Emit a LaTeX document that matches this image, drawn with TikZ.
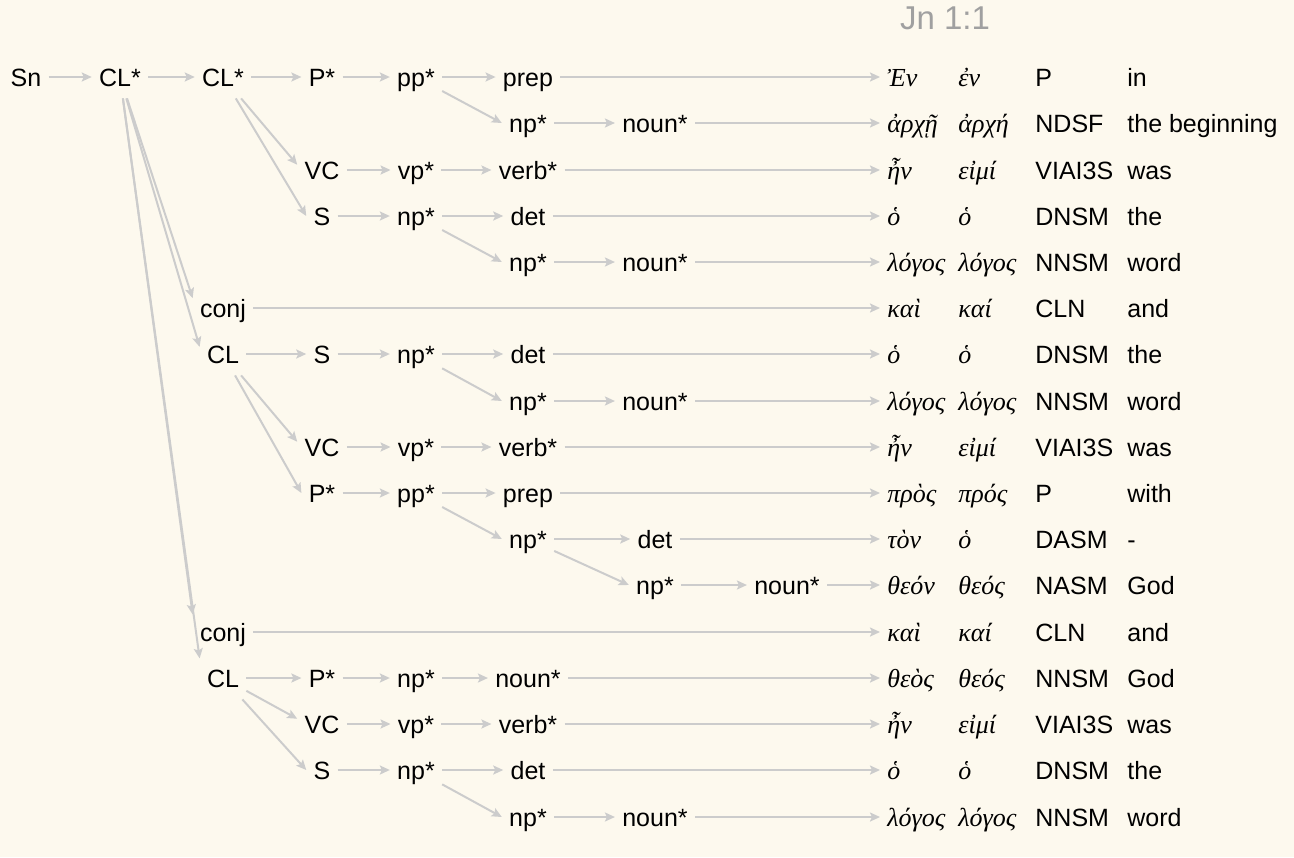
\documentclass[tikz,border=0pt]{standalone}
\usepackage{fontspec}
\setmainfont{Liberation Sans}
\newfontfamily\greekfont{Liberation Serif}
\usetikzlibrary{arrows.meta, positioning, calc}

\definecolor{paper}{HTML}{FDF9EE}
\definecolor{edgegray}{HTML}{CCCCCC}
\definecolor{titlegray}{HTML}{A0A0A0}

\begin{document}
\begin{tikzpicture}[x=0.5pt,y=-0.5pt,
  lbl/.style={font=\fontsize{12.5pt}{15pt}\selectfont,inner xsep=3.5pt,inner ysep=6pt,text height=9pt,text depth=0pt},
  grk/.style={lbl,font=\greekfont\itshape\fontsize{13pt}{15pt}\selectfont,anchor=west},
  cell/.style={lbl,anchor=west},
  link/.style={draw=edgegray,line width=1pt,-{Stealth[length=5pt,width=4.5pt,inset=1pt]}}]
  \path[use as bounding box,fill=paper] (0,0) rectangle (1294,857);
  \node(title)[font=\fontsize{16.5pt}{20pt}\selectfont,text=titlegray] at (945,18) {Jn 1:1};
%
  \foreach \y/\w/\l/\t/\g [count=\i] in {77/Ἐν/ἐν/P/in, 123/ἀρχῇ/ἀρχή/NDSF/the beginning,
      170/ἦν/εἰμί/VIAI3S/was, 216/ὁ/ὁ/DNSM/the, 262/λόγος/λόγος/NNSM/word,
      308/καὶ/καί/CLN/and, 354/ὁ/ὁ/DNSM/the, 401/λόγος/λόγος/NNSM/word,
      447/ἦν/εἰμί/VIAI3S/was, 493/πρὸς/πρός/P/with, 539/τὸν/ὁ/DASM/-,
      585/θεόν/θεός/NASM/God, 632/καὶ/καί/CLN/and, 678/θεὸς/θεός/NNSM/God,
      724/ἦν/εἰμί/VIAI3S/was, 770/ὁ/ὁ/DNSM/the, 817/λόγος/λόγος/NNSM/word}{
    \node(w\i)[grk] at (880,\y) {\w};
    \node(l\i)[grk] at (951,\y) {\l};
    \node(t\i)[cell] at (1028,\y) {\t};
    \node(g\i)[cell] at (1120,\y) {\g};
  }
%
  \node(sn)[lbl] at (26,77) {Sn};
  \node(cla)[lbl] at (120,77) {CL*};
  \node(clb)[lbl] at (223,77) {CL*};
  \node(pa)[lbl] at (322,77) {P*};
  \node(ppa)[lbl] at (416,77) {pp*};
  \node(prepa)[lbl] at (528,77) {prep};
  \node(npa)[lbl] at (528,123) {np*};
  \node(nouna)[lbl] at (655,123) {noun*};
%
  \node(vca)[lbl] at (322,170) {VC};
  \node(vpa)[lbl] at (416,170) {vp*};
  \node(verba)[lbl] at (528,170) {verb*};
  \node(sa)[lbl] at (322,216) {S};
  \node(npb)[lbl] at (416,216) {np*};
  \node(deta)[lbl] at (528,216) {det};
  \node(npc)[lbl] at (528,262) {np*};
  \node(nounb)[lbl] at (655,262) {noun*};
%
  \node(conja)[lbl] at (223,308) {conj};
  \node(clc)[lbl] at (223,354) {CL};
  \node(sb)[lbl] at (322,354) {S};
  \node(npd)[lbl] at (416,354) {np*};
  \node(detb)[lbl] at (528,354) {det};
  \node(npe)[lbl] at (528,401) {np*};
  \node(nounc)[lbl] at (655,401) {noun*};
  \node(vcb)[lbl] at (322,447) {VC};
  \node(vpb)[lbl] at (416,447) {vp*};
  \node(verbb)[lbl] at (528,447) {verb*};
  \node(pb)[lbl] at (322,493) {P*};
  \node(ppb)[lbl] at (416,493) {pp*};
  \node(prepb)[lbl] at (528,493) {prep};
  \node(npf)[lbl] at (528,539) {np*};
  \node(detc)[lbl] at (655,539) {det};
  \node(npg)[lbl] at (655,585) {np*};
  \node(nound)[lbl] at (787,585) {noun*};
%
  \node(conjb)[lbl] at (223,632) {conj};
  \node(cld)[lbl] at (223,678) {CL};
  \node(pc)[lbl] at (322,678) {P*};
  \node(nph)[lbl] at (416,678) {np*};
  \node(noune)[lbl] at (528,678) {noun*};
  \node(vcc)[lbl] at (322,724) {VC};
  \node(vpc)[lbl] at (416,724) {vp*};
  \node(verbc)[lbl] at (528,724) {verb*};
  \node(sc)[lbl] at (322,770) {S};
  \node(npi)[lbl] at (416,770) {np*};
  \node(detd)[lbl] at (528,770) {det};
  \node(npj)[lbl] at (528,817) {np*};
  \node(nounf)[lbl] at (655,817) {noun*};
%
\draw[link](sn)--(cla);
\draw[link](cla)--(clb);
\draw[link](cla)--(conja.162);
\draw[link](cla)--(clc.163);
\draw[link](cla)--(conjb.150);
\draw[link](cla)--(cld.140);
%
\draw[link](clb)--(pa);
\draw[link](clb)--(vca.168);
\draw[link](clb)--(sa.west);
\draw[link](pa)--(ppa);
\draw[link](ppa)--(prepa);
\draw[link](ppa)--(npa.west);
\draw[link](npa)--(nouna);
\draw[link](vca)--(vpa);
\draw[link](vpa)--(verba);
\draw[link](sa)--(npb);
\draw[link](npb)--(deta);
\draw[link](npb)--(npc.west);
\draw[link](npc)--(nounb);
%
\draw[link](clc)--(sb);
\draw[link](clc)--(vcb.168);
\draw[link](clc)--(pb.west);
\draw[link](sb)--(npd);
\draw[link](npd)--(detb);
\draw[link](npd)--(npe.west);
\draw[link](npe)--(nounc);
\draw[link](vcb)--(vpb);
\draw[link](vpb)--(verbb);
\draw[link](pb)--(ppb);
\draw[link](ppb)--(prepb);
\draw[link](ppb)--(npf.west);
\draw[link](npf)--(detc);
\draw[link](npf)--(npg.west);
\draw[link](npg)--(nound);
%
\draw[link](cld)--(pc);
\draw[link](cld)--(vcc.168);
\draw[link](cld)--(sc.west);
\draw[link](pc)--(nph);
\draw[link](nph)--(noune);
\draw[link](vcc)--(vpc);
\draw[link](vpc)--(verbc);
\draw[link](sc)--(npi);
\draw[link](npi)--(detd);
\draw[link](npi)--(npj.west);
\draw[link](npj)--(nounf);
%
\draw[link](prepa)--(w1);
\draw[link](nouna)--(w2);
\draw[link](verba)--(w3);
\draw[link](deta)--(w4);
\draw[link](nounb)--(w5);
\draw[link](conja)--(w6);
\draw[link](detb)--(w7);
\draw[link](nounc)--(w8);
\draw[link](verbb)--(w9);
\draw[link](prepb)--(w10);
\draw[link](detc)--(w11);
\draw[link](nound)--(w12);
\draw[link](conjb)--(w13);
\draw[link](noune)--(w14);
\draw[link](verbc)--(w15);
\draw[link](detd)--(w16);
\draw[link](nounf)--(w17);
\end{tikzpicture}
\end{document}
